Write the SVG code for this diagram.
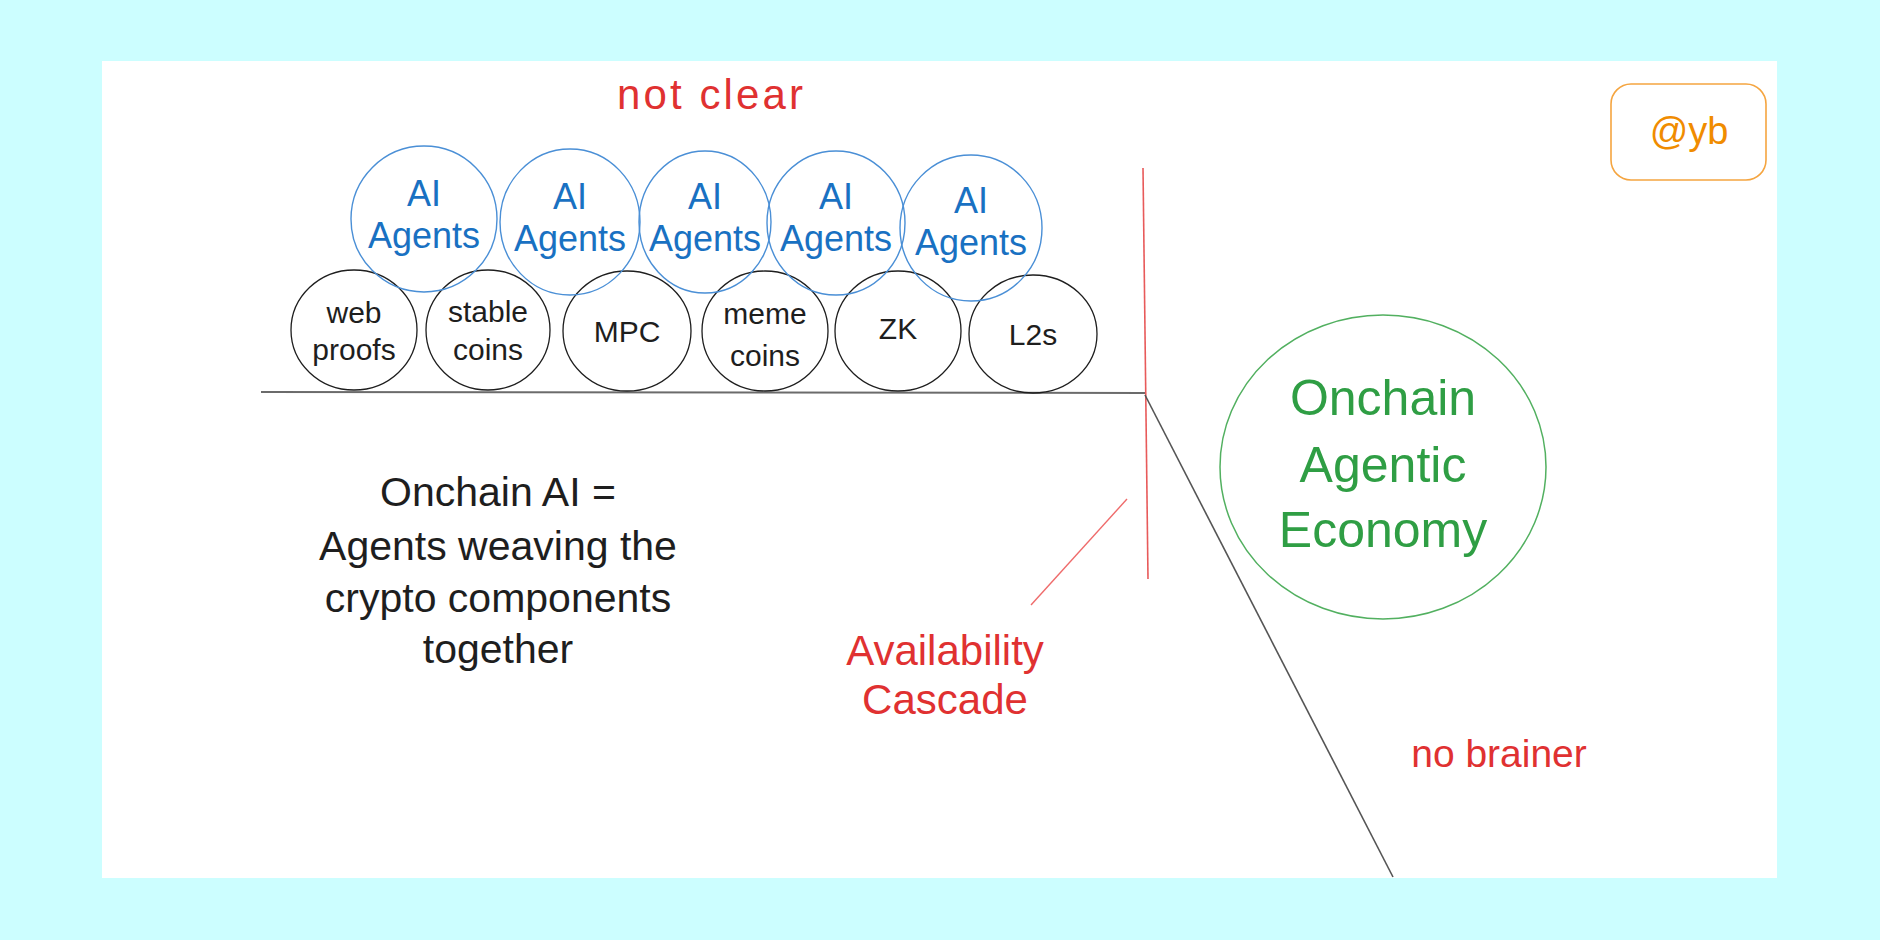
<svg xmlns="http://www.w3.org/2000/svg" width="1880" height="940" viewBox="0 0 1880 940">
<style>
text{font-family:"Liberation Sans","Noto Sans",sans-serif;text-anchor:middle;dominant-baseline:central}
.agent{fill:none;stroke:#4a8fd6;stroke-width:1.4}
.agentT{fill:#1971c2;font-size:36px}
.comp{fill:none;stroke:#1e1e1e;stroke-width:1.3}
.compT{fill:#1e1e1e;font-size:30px}
.red{fill:#e03131}
.def{fill:#1e1e1e;font-size:41px}
.green{fill:#2f9e44;font-size:50px}
</style>
<rect x="0" y="0" width="1880" height="940" fill="#ccfeff"/>
<rect x="102" y="61" width="1675" height="817" fill="#ffffff"/>

<g id="connectors">
<line x1="261" y1="392" x2="1145" y2="393" stroke="#6b6b6b" stroke-width="2"/>
<line x1="1143" y1="168" x2="1148" y2="579" stroke="#e85a5a" stroke-width="1.6"/>
<line x1="1145" y1="395" x2="1393" y2="877" stroke="#555" stroke-width="1.6"/>
<line x1="1127" y1="499" x2="1031" y2="605" stroke="#ef6b6b" stroke-width="1.4"/>
</g>

<g id="comp-webproofs"><ellipse class="comp" cx="354" cy="330" rx="63" ry="60"/><text class="compT" x="354" y="312">web</text><text class="compT" x="354" y="349">proofs</text></g>
<g id="comp-stablecoins"><ellipse class="comp" cx="488" cy="330" rx="62" ry="60"/><text class="compT" x="488" y="311">stable</text><text class="compT" x="488" y="349">coins</text></g>
<g id="comp-mpc"><ellipse class="comp" cx="627" cy="331" rx="64" ry="60"/><text class="compT" x="627" y="331" font-size="32">MPC</text></g>
<g id="comp-memecoins"><ellipse class="comp" cx="765" cy="331" rx="63" ry="60"/><text class="compT" x="765" y="313">meme</text><text class="compT" x="765" y="355">coins</text></g>
<g id="comp-zk"><ellipse class="comp" cx="898" cy="331" rx="63" ry="60"/><text class="compT" x="898" y="328" font-size="33">ZK</text></g>
<g id="comp-l2s"><ellipse class="comp" cx="1033" cy="334" rx="64" ry="59"/><text class="compT" x="1033" y="334" font-size="33">L2s</text></g>

<g id="agent-1"><ellipse class="agent" cx="424" cy="219" rx="73" ry="73"/><text class="agentT" x="424" y="193">AI</text><text class="agentT" x="424" y="235">Agents</text></g>
<g id="agent-2"><ellipse class="agent" cx="570" cy="222" rx="70" ry="73"/><text class="agentT" x="570" y="196">AI</text><text class="agentT" x="570" y="238">Agents</text></g>
<g id="agent-3"><ellipse class="agent" cx="705" cy="222" rx="66" ry="71"/><text class="agentT" x="705" y="196">AI</text><text class="agentT" x="705" y="238">Agents</text></g>
<g id="agent-4"><ellipse class="agent" cx="836" cy="223" rx="69" ry="72"/><text class="agentT" x="836" y="196">AI</text><text class="agentT" x="836" y="238">Agents</text></g>
<g id="agent-5"><ellipse class="agent" cx="971" cy="228" rx="71" ry="73"/><text class="agentT" x="971" y="200">AI</text><text class="agentT" x="971" y="242">Agents</text></g>

<g id="economy"><ellipse cx="1383" cy="467" rx="163" ry="152" fill="none" stroke="#52b060" stroke-width="1.5"/>
<text class="green" x="1383" y="398">Onchain</text>
<text class="green" x="1383" y="465">Agentic</text>
<text class="green" x="1383" y="530">Economy</text></g>

<g id="badge"><rect x="1611" y="84" width="155" height="96" rx="20" fill="none" stroke="#f5a540" stroke-width="1.6"/>
<text x="1689" y="131" fill="#f08c00" font-size="38">@yb</text></g>

<g id="label-notclear"><text class="red" x="710" y="94" font-size="42" textLength="186">not clear</text></g>

<g id="definition">
<text class="def" x="498" y="492">Onchain AI =</text>
<text class="def" x="498" y="546">Agents weaving the</text>
<text class="def" x="498" y="598">crypto components</text>
<text class="def" x="498" y="649">together</text>
</g>

<g id="label-cascade">
<text class="red" x="945" y="650" font-size="42">Availability</text>
<text class="red" x="945" y="699" font-size="42">Cascade</text>
</g>

<g id="label-nobrainer"><text class="red" x="1499" y="753" font-size="39">no brainer</text></g>
</svg>
